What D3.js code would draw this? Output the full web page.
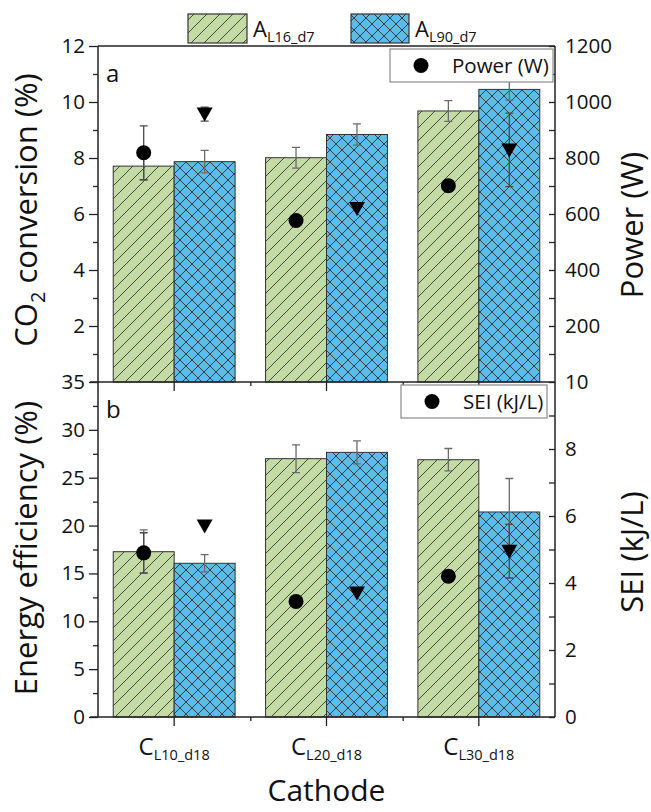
<!DOCTYPE html>
<html lang="en">
<head>
<meta charset="UTF-8">
<title>CO2 conversion and energy efficiency</title>
<script src="https://d3js.org/d3.v7.min.js"></script>
<style>
  body { margin: 0; background: #fff; }
  svg text { font-family: "Open Sans", sans-serif; fill: #111; }
</style>
</head>
<body>
<div id="chart"></div>
<script>
// categories
var cathodes = ["L10_d18", "L20_d18", "L30_d18"];
var anodes = ["L16_d7", "L90_d7"];

// panel a: CO2 conversion (%) bars and power (W) markers
var conversionL16 = [7.71, 8.01, 9.68];
var conversionL16Err = [0.5, 0.37, 0.37];
var conversionL90 = [7.87, 8.84, 10.45];
var conversionL90Err = [0.4, 0.38, 0.38];
var powerL16 = [819, 577, 701];
var powerL16Err = [96, 0, 0];
var powerL90 = [957, 620, 829];
var powerL90Err = [25, 0, 131];

// panel b: energy efficiency (%) bars and SEI (kJ/L) markers
var efficiencyL16 = [17.27, 26.99, 26.88];
var efficiencyL16Err = [2.27, 1.45, 1.17];
var efficiencyL90 = [16.06, 27.65, 21.42];
var efficiencyL90Err = [0.9, 1.2, 3.5];
var seiL16 = [4.9, 3.45, 4.2];
var seiL16Err = [0.6, 0, 0];
var seiL90 = [5.7, 3.7, 4.95];
var seiL90Err = [0, 0, 0.8];

// tick values
var convTicks = [2, 4, 6, 8, 10, 12];
var convMinor = [1, 3, 5, 7, 9, 11];
var powerTicks = [200, 400, 600, 800, 1000, 1200];
var powerMinor = [100, 300, 500, 700, 900, 1100];
var effTicks = [0, 5, 10, 15, 20, 25, 30, 35];
var effMinor = [2.5, 7.5, 12.5, 17.5, 22.5, 27.5, 32.5];
var seiTicks = [0, 2, 4, 6, 8, 10];
var seiMinor = [1, 3, 5, 7, 9];

var width = 651, height = 812;
var left = 98, right = 555;
var greenFill = "#c4dba6", blueFill = "#5cbce8";

var svg = d3.select("#chart").append("svg")
    .attr("width", width)
    .attr("height", height);

var defs = svg.append("defs");
var hatch = defs.append("pattern")
    .attr("id", "hatch")
    .attr("patternUnits", "userSpaceOnUse")
    .attr("width", 13).attr("height", 13);
hatch.append("rect").attr("width", 13).attr("height", 13).attr("fill", greenFill);
hatch.append("path")
    .attr("d", "M-3,3L3,-3M0,13L13,0M10,16L16,10")
    .attr("stroke", "#222").attr("stroke-width", 0.8);

var cross = defs.append("pattern")
    .attr("id", "cross")
    .attr("patternUnits", "userSpaceOnUse")
    .attr("width", 12).attr("height", 12);
cross.append("rect").attr("width", 12).attr("height", 12).attr("fill", blueFill);
cross.append("path")
    .attr("d", "M0,0L12,12M12,0L0,12")
    .attr("stroke", "#222").attr("stroke-width", 0.8);

var x = d3.scaleBand().domain(cathodes).range([left, right]).padding(0);
var xInner = d3.scaleBand().domain(anodes)
    .range([x.bandwidth() * 0.1, x.bandwidth() * 0.9]).padding(0);

var fills = { "L16_d7": "url(#hatch)", "L90_d7": "url(#cross)" };

function drawPanel(cfg) {
    var g = svg.append("g");
    var yL = d3.scaleLinear().domain(cfg.leftDomain).range([cfg.bottom, cfg.top]);
    var yR = d3.scaleLinear().domain(cfg.rightDomain).range([cfg.bottom, cfg.top]);

    var bars = [];
    cathodes.forEach(function (c, i) {
        bars.push({ c: c, s: "L16_d7", v: cfg.barsA[i], e: cfg.barsAErr[i], m: cfg.markA[i], me: cfg.markAErr[i] });
        bars.push({ c: c, s: "L90_d7", v: cfg.barsB[i], e: cfg.barsBErr[i], m: cfg.markB[i], me: cfg.markBErr[i] });
    });

    g.selectAll("rect.bar").data(bars).enter().append("rect")
        .attr("class", "bar")
        .attr("x", function (d) { return x(d.c) + xInner(d.s); })
        .attr("width", xInner.bandwidth())
        .attr("y", function (d) { return yL(d.v); })
        .attr("height", function (d) { return yL(0) - yL(d.v); })
        .attr("fill", function (d) { return fills[d.s]; })
        .attr("stroke", "#333").attr("stroke-width", 1);

    function errBar(cx, y0, y1, color) {
        g.append("path")
            .attr("d", "M" + cx + "," + y0 + "V" + y1 +
                "M" + (cx - 4) + "," + y0 + "H" + (cx + 4) +
                "M" + (cx - 4) + "," + y1 + "H" + (cx + 4))
            .attr("fill", "none").attr("stroke", color).attr("stroke-width", 1.3);
    }

    bars.forEach(function (d) {
        var cx = x(d.c) + xInner(d.s) + xInner.bandwidth() / 2;
        errBar(cx, yL(d.v + d.e), yL(d.v - d.e), "#6b6b6b");
    });
    bars.forEach(function (d) {
        if (d.me > 0) {
            var cx = x(d.c) + xInner(d.s) + xInner.bandwidth() / 2;
            errBar(cx, yR(d.m + d.me), yR(d.m - d.me), "#4a4a4a");
        }
    });

    bars.forEach(function (d) {
        var cx = x(d.c) + xInner(d.s) + xInner.bandwidth() / 2;
        var cy = yR(d.m);
        if (d.s === "L16_d7") {
            g.append("circle").attr("cx", cx).attr("cy", cy).attr("r", 7.5).attr("fill", "#000");
        } else {
            g.append("path")
                .attr("d", "M" + (cx - 8) + "," + (cy - 6.5) + "H" + (cx + 8) + "L" + cx + "," + (cy + 7.5) + "Z")
                .attr("fill", "#000");
        }
    });

    // frame
    g.append("line").attr("x1", left).attr("x2", left).attr("y1", cfg.top).attr("y2", cfg.bottom)
        .attr("stroke", "#222").attr("stroke-width", 1.5);
    g.append("line").attr("x1", right).attr("x2", right).attr("y1", cfg.top).attr("y2", cfg.bottom)
        .attr("stroke", "#222").attr("stroke-width", 1.5);
    g.append("line").attr("x1", left - 8).attr("x2", right).attr("y1", cfg.bottom).attr("y2", cfg.bottom)
        .attr("stroke", "#222").attr("stroke-width", 1.5);
    if (cfg.topLine) {
        g.append("line").attr("x1", left).attr("x2", right).attr("y1", cfg.top).attr("y2", cfg.top)
            .attr("stroke", "#222").attr("stroke-width", 1.5);
    }

    // left axis
    g.append("g").attr("transform", "translate(" + left + ",0)")
        .call(d3.axisLeft(yL).tickValues(cfg.leftTicks).tickSizeInner(9).tickSizeOuter(0)
            .tickPadding(4).tickFormat(d3.format("d")));
    g.append("g").attr("transform", "translate(" + left + ",0)")
        .call(d3.axisLeft(yL).tickValues(cfg.leftMinor).tickSize(5).tickFormat(""));
    // right axis, ticks pointing in
    g.append("g").attr("transform", "translate(" + right + ",0)")
        .call(d3.axisRight(yR).tickValues(cfg.rightTicks).tickSizeInner(-6).tickSizeOuter(0)
            .tickPadding(10).tickFormat(d3.format("d")));
    g.append("g").attr("transform", "translate(" + right + ",0)")
        .call(d3.axisRight(yR).tickValues(cfg.rightMinor).tickSize(-6).tickFormat(""));

    // bottom axis ticks: centers and group boundaries
    g.append("g").attr("transform", "translate(0," + cfg.bottom + ")")
        .call(d3.axisBottom(x).tickSizeInner(9).tickSizeOuter(0).tickFormat(""));
    g.append("g").attr("transform", "translate(0," + cfg.bottom + ")")
        .call(d3.axisBottom(d3.scaleLinear().domain([0, 3]).range([left, right]))
            .tickValues([1, 2]).tickSize(4).tickFormat(""));

    g.selectAll(".domain").remove();
    g.selectAll(".tick line").attr("stroke", "#222").attr("stroke-width", 1.3);
    g.selectAll(".tick text").attr("font-size", "20.5px").attr("fill", "#111");

    // panel letter
    g.append("text").attr("x", 106).attr("y", cfg.top + 36)
        .attr("font-size", "24px").text(cfg.letter);

    // y titles
    var lt = g.append("text")
        .attr("transform", "translate(37," + cfg.leftTitleY + ") rotate(-90)")
        .attr("text-anchor", "middle")
        .attr("font-size", "31px");
    cfg.leftTitle.forEach(function (p) {
        var t = lt.append("tspan").text(p.t);
        if (p.sub) t.attr("font-size", "20px").attr("dy", 8);
        if (p.after) t.attr("dy", -8);
    });
    g.append("text")
        .attr("transform", "translate(643," + cfg.rightTitleY + ") rotate(-90)")
        .attr("text-anchor", "middle")
        .attr("font-size", "31px")
        .text(cfg.rightTitle);

    // marker legend box
    var lb = cfg.legendBox;
    g.append("rect").attr("x", lb[0]).attr("y", lb[1]).attr("width", lb[2]).attr("height", lb[3])
        .attr("fill", "#fff").attr("stroke", "#8a8a8a").attr("stroke-width", 1.2);
    g.append("circle").attr("cx", lb[0] + 31).attr("cy", lb[1] + lb[3] / 2).attr("r", 7.5).attr("fill", "#000");
    g.append("text").attr("x", lb[0] + 62).attr("y", lb[1] + lb[3] / 2 + 7.5)
        .attr("font-size", "20.5px").text(cfg.legendText);

    return g;
}

drawPanel({
    top: 46, bottom: 382, letter: "a", topLine: true,
    leftDomain: [0, 12], rightDomain: [0, 1200],
    leftTicks: convTicks, leftMinor: convMinor,
    rightTicks: powerTicks, rightMinor: powerMinor,
    barsA: conversionL16, barsAErr: conversionL16Err,
    barsB: conversionL90, barsBErr: conversionL90Err,
    markA: powerL16, markAErr: powerL16Err,
    markB: powerL90, markBErr: powerL90Err,
    leftTitle: [{ t: "CO" }, { t: "2", sub: true }, { t: " conversion (%)", after: true }],
    leftTitleY: 210,
    rightTitle: "Power (W)", rightTitleY: 225,
    legendBox: [390, 49, 163, 33], legendText: "Power (W)"
});

drawPanel({
    top: 382, bottom: 717, letter: "b", topLine: false,
    leftDomain: [0, 35], rightDomain: [0, 10],
    leftTicks: effTicks, leftMinor: effMinor,
    rightTicks: seiTicks, rightMinor: seiMinor,
    barsA: efficiencyL16, barsAErr: efficiencyL16Err,
    barsB: efficiencyL90, barsBErr: efficiencyL90Err,
    markA: seiL16, markAErr: seiL16Err,
    markB: seiL90, markBErr: seiL90Err,
    leftTitle: [{ t: "Energy efficiency (%)" }],
    leftTitleY: 548,
    rightTitle: "SEI (kJ/L)", rightTitleY: 552,
    legendBox: [401, 385, 146, 33], legendText: "SEI (kJ/L)"
});

// x category labels
cathodes.forEach(function (c) {
    var t = svg.append("text")
        .attr("x", x(c) + x.bandwidth() / 2)
        .attr("y", 755)
        .attr("text-anchor", "middle")
        .attr("font-size", "24px");
    t.append("tspan").text("C");
    t.append("tspan").attr("font-size", "14.5px").attr("dy", 5).text(c);
});

svg.append("text")
    .attr("x", (left + right) / 2)
    .attr("y", 801)
    .attr("text-anchor", "middle")
    .attr("font-size", "30px")
    .text("Cathode");

// series legend at the top
var legendItems = [
    { s: "L16_d7", x: 188, w: 59 },
    { s: "L90_d7", x: 351, w: 58 }
];
legendItems.forEach(function (d) {
    svg.append("rect").attr("x", d.x).attr("y", 14).attr("width", d.w).attr("height", 29)
        .attr("fill", fills[d.s]).attr("stroke", "#333").attr("stroke-width", 1.2);
    var t = svg.append("text").attr("x", d.x + d.w + 6).attr("y", 37).attr("font-size", "22px");
    t.append("tspan").text("A");
    t.append("tspan").attr("font-size", "14.5px").attr("dy", 5).text(d.s);
});
</script>
</body>
</html>
